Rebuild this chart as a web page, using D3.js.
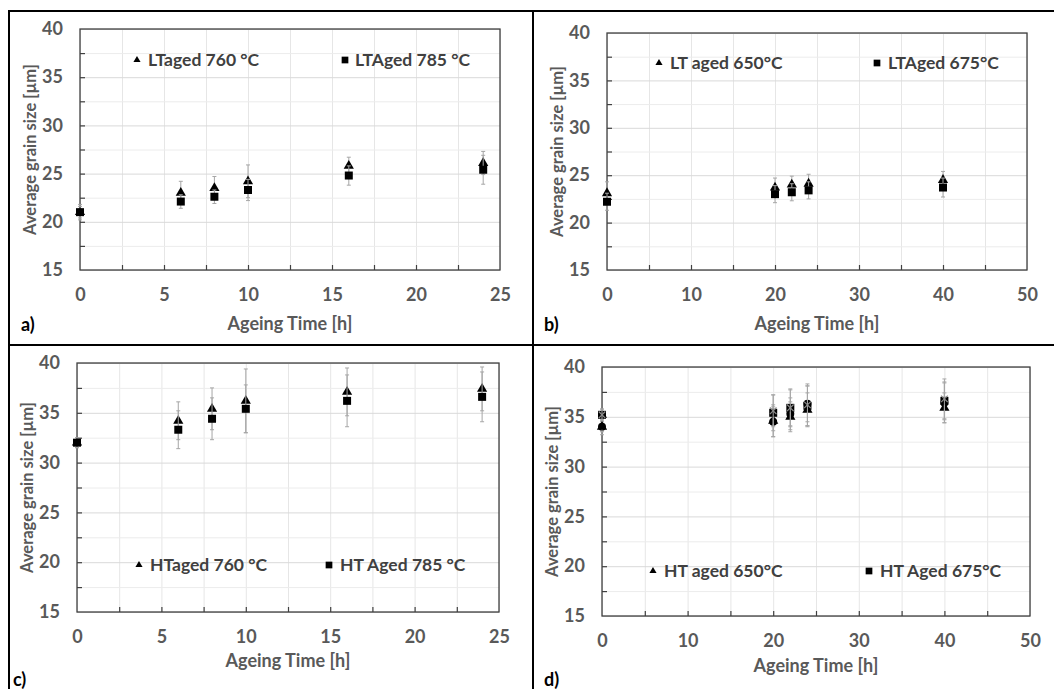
<!DOCTYPE html>
<html>
<head>
<meta charset="utf-8">
<script src="https://cdn.jsdelivr.net/npm/d3@7"></script>
<style>
  body { margin: 0; background: #fff; }
  svg { display: block; }
  text { font-family: Lato, "Open Sans", sans-serif; }
</style>
</head>
<body>
<div id="chart"></div>
<script>
// a) LT aged at 760 / 785 °C
const timesA = [0, 6, 8, 10, 16, 24];
const lt760 = [21.0, 23.0, 23.5, 24.2, 25.8, 26.1];
const lt760Err = [0.8, 1.2, 1.2, 1.7, 0.9, 1.2];
const lt785 = [21.0, 22.1, 22.6, 23.3, 24.8, 25.4];
const lt785Err = [0.6, 0.7, 0.7, 1.1, 1.0, 1.5];

// b) LT aged at 650 / 675 °C
const timesB = [0, 20, 22, 24, 40];
const lt650 = [23.1, 23.7, 24.0, 24.1, 24.5];
const lt650Err = [1.2, 1.0, 0.9, 1.0, 0.9];
const lt675 = [22.2, 23.0, 23.2, 23.4, 23.7];
const lt675Err = [0.9, 0.9, 0.9, 0.9, 1.0];

// c) HT aged at 760 / 785 °C
const ht760 = [32.0, 34.2, 35.4, 36.2, 37.1, 37.4];
const ht760Err = [0.5, 1.9, 2.1, 3.2, 2.4, 2.2];
const ht785 = [32.0, 33.3, 34.4, 35.4, 36.2, 36.6];
const ht785Err = [0.5, 1.9, 2.1, 2.4, 2.6, 2.5];

// d) HT aged at 650 / 675 °C (+ two unlabelled series)
const ht650 = [34.0, 34.6, 35.0, 35.7, 35.9];
const ht650Err = [0.8, 1.6, 1.5, 1.7, 1.5];
const ht675 = [35.2, 35.4, 35.9, 36.1, 36.6];
const ht675Err = [0.6, 1.8, 1.8, 2.0, 1.9];
const htExtraA = [34.0, 34.5, 35.3, 36.3, 36.4];
const htExtraAErr = [0.5, 1.5, 1.6, 1.8, 2.0];
const htExtraB = [35.2, 35.6, 35.9, 36.2, 36.8];
const htExtraBErr = [0.5, 1.6, 1.9, 2.1, 2.0];

const yTicks = [15, 20, 25, 30, 35, 40];
const xTicksShort = [0, 5, 10, 15, 20, 25];
const xTicksLong = [0, 10, 20, 30, 40, 50];

const W = 1054, H = 689;

let svg = d3.select("#chart").append("svg")
    .attr("width", W)
    .attr("height", H);

function toPoints(xs, ys, errs) {
  return xs.map(function(x, i) { return {x: x, y: ys[i], e: errs[i]}; });
}

function drawPanel(p) {
  let x = d3.scaleLinear().domain(p.xDomain).range([p.left, p.right]);
  let y = d3.scaleLinear().domain([15, 40]).range([p.bottom, p.top]);
  let g = svg.append("g");
  let height = p.bottom - p.top, width = p.right - p.left;
  let xStep = p.xDomain[1] / 10;
  let xMinor = d3.range(0, p.xDomain[1] + 0.01, xStep);
  let yMinor = d3.range(15, 40.01, 2.5);

  // grid
  g.append("g")
   .attr("transform", "translate(0," + p.bottom + ")")
   .call(d3.axisBottom(x).tickValues(xMinor).tickSize(-height).tickFormat(""))
   .call(s => s.select(".domain").remove())
   .selectAll("line").attr("stroke", "#e6e6e6");
  g.append("g")
   .attr("transform", "translate(" + p.left + ",0)")
   .call(d3.axisLeft(y).tickValues(yMinor).tickSize(-width).tickFormat(""))
   .call(s => s.select(".domain").remove())
   .selectAll("line").attr("stroke", function(d) { return d % 5 === 0 ? "#d9d9d9" : "#ececec"; });

  // inner ticks
  g.append("g")
   .attr("transform", "translate(0," + p.bottom + ")")
   .call(d3.axisBottom(x).tickValues(xMinor.slice(1, -1)).tickSize(-5).tickFormat(""))
   .call(s => s.select(".domain").remove())
   .selectAll("line").attr("stroke", "#404040").attr("stroke-width", 1.2);
  g.append("g")
   .attr("transform", "translate(" + p.left + ",0)")
   .call(d3.axisLeft(y).tickValues(yMinor.slice(1, -1)).tickSize(-5).tickFormat(""))
   .call(s => s.select(".domain").remove())
   .selectAll("line").attr("stroke", "#404040").attr("stroke-width", 1.2);

  // tick labels
  let xl = g.append("g")
   .attr("transform", "translate(0," + p.bottom + ")")
   .call(d3.axisBottom(x).tickValues(p.xTicks).tickSize(0).tickPadding(p.xPad));
  xl.select(".domain").remove();
  xl.selectAll("text").attr("fill", "#595959").attr("font-size", 18).attr("font-weight", "bold")
    .attr("font-family", "Lato, sans-serif");
  let yl = g.append("g")
   .attr("transform", "translate(" + p.left + ",0)")
   .call(d3.axisLeft(y).tickValues(yTicks).tickSize(0).tickPadding(p.yPad));
  yl.select(".domain").remove();
  yl.selectAll("text").attr("fill", "#595959").attr("font-size", 18).attr("font-weight", "bold")
    .attr("font-family", "Lato, sans-serif");

  // frame
  g.append("rect")
   .attr("x", p.left).attr("y", p.top)
   .attr("width", width).attr("height", height)
   .attr("fill", "none").attr("stroke", "#404040").attr("stroke-width", 1.3);

  // titles
  g.append("text")
   .attr("x", (p.left + p.right) / 2).attr("y", p.xTitleY)
   .attr("text-anchor", "middle")
   .attr("fill", "#595959").attr("font-size", 18).attr("font-weight", "bold")
   .text("Ageing Time [h]");
  g.append("text")
   .attr("transform", "translate(" + p.yTitleX + "," + (p.top + p.bottom) / 2 + ") rotate(-90)")
   .attr("text-anchor", "middle")
   .attr("fill", "#595959").attr("font-size", 16.5).attr("font-weight", "bold")
   .text("Average grain size [µm]");
  g.append("text")
   .attr("x", p.tagX).attr("y", p.tagY)
   .attr("fill", "#000").attr("font-size", 18).attr("font-weight", "bold")
   .text(p.tag);

  // series
  p.series.forEach(function(s) {
    let pts = toPoints(s.xs, s.ys, s.errs);
    let eb = g.append("g").attr("stroke", "#a6a6a6").attr("stroke-width", 1);
    pts.forEach(function(d) {
      let cx = x(d.x);
      eb.append("line").attr("x1", cx).attr("x2", cx).attr("y1", y(d.y - d.e)).attr("y2", y(d.y + d.e));
      eb.append("line").attr("x1", cx - 2).attr("x2", cx + 2).attr("y1", y(d.y - d.e)).attr("y2", y(d.y - d.e));
      eb.append("line").attr("x1", cx - 2).attr("x2", cx + 2).attr("y1", y(d.y + d.e)).attr("y2", y(d.y + d.e));
    });
    g.selectAll(null)
     .data(pts)
     .enter().append("path")
     .attr("transform", function(d) { return "translate(" + x(d.x) + "," + y(d.y) + ")"; })
     .attr("d", d3.symbol().type(s.symbol).size(s.size))
     .attr("fill", s.stroke ? "none" : "#000")
     .attr("stroke", s.stroke || "none")
     .attr("stroke-width", s.stroke ? 1.2 : 0);
  });

  // legend
  p.legend.forEach(function(l) {
    g.append("path")
     .attr("transform", "translate(" + l.mx + "," + l.my + ")")
     .attr("d", d3.symbol().type(l.symbol).size(l.size))
     .attr("fill", "#000");
    g.append("text")
     .attr("x", l.tx).attr("y", l.my + 6)
     .attr("fill", "#404040").attr("font-size", 17.5).attr("font-weight", "bold")
     .text(l.label);
  });
}

// outer frame and dividers
svg.append("path")
   .attr("d", "M9," + H + "V11H" + W)
   .attr("fill", "none").attr("stroke", "#000").attr("stroke-width", 2);
svg.append("line").attr("x1", 9).attr("x2", W).attr("y1", 345).attr("y2", 345)
   .attr("stroke", "#000").attr("stroke-width", 2);
svg.append("line").attr("x1", 533).attr("x2", 533).attr("y1", 11).attr("y2", H)
   .attr("stroke", "#000").attr("stroke-width", 2);

drawPanel({
  tag: "a)", tagX: 21, tagY: 331,
  left: 80, right: 500, top: 29, bottom: 270, xDomain: [0, 25], xTicks: xTicksShort,
  xPad: 18, yPad: 17, xTitleY: 330, yTitleX: 36,
  series: [
    {xs: timesA, ys: lt760, errs: lt760Err, symbol: d3.symbolTriangle, size: 45},
    {xs: timesA, ys: lt785, errs: lt785Err, symbol: d3.symbolSquare, size: 64}
  ],
  legend: [
    {symbol: d3.symbolTriangle, size: 22, mx: 137, my: 60, tx: 148, label: "LTaged 760 °C"},
    {symbol: d3.symbolSquare, size: 45, mx: 345, my: 60, tx: 355, label: "LTAged 785 °C"}
  ]
});

drawPanel({
  tag: "b)", tagX: 544, tagY: 331,
  left: 607, right: 1027, top: 33, bottom: 270, xDomain: [0, 50], xTicks: xTicksLong,
  xPad: 18, yPad: 17, xTitleY: 330, yTitleX: 563,
  series: [
    {xs: timesB, ys: lt650, errs: lt650Err, symbol: d3.symbolTriangle, size: 45},
    {xs: timesB, ys: lt675, errs: lt675Err, symbol: d3.symbolSquare, size: 64}
  ],
  legend: [
    {symbol: d3.symbolTriangle, size: 22, mx: 659, my: 63, tx: 670, label: "LT aged 650°C"},
    {symbol: d3.symbolSquare, size: 45, mx: 877, my: 63, tx: 888, label: "LTAged 675°C"}
  ]
});

drawPanel({
  tag: "c)", tagX: 13, tagY: 686,
  left: 77, right: 499, top: 363, bottom: 612, xDomain: [0, 25], xTicks: xTicksShort,
  xPad: 18, yPad: 17, xTitleY: 667, yTitleX: 33,
  series: [
    {xs: timesA, ys: ht760, errs: ht760Err, symbol: d3.symbolTriangle, size: 45},
    {xs: timesA, ys: ht785, errs: ht785Err, symbol: d3.symbolSquare, size: 64}
  ],
  legend: [
    {symbol: d3.symbolTriangle, size: 22, mx: 139, my: 565, tx: 150, label: "HTaged 760 °C"},
    {symbol: d3.symbolSquare, size: 45, mx: 329, my: 565, tx: 340, label: "HT Aged 785 °C"}
  ]
});

drawPanel({
  tag: "d)", tagX: 544, tagY: 686,
  left: 602, right: 1030, top: 367, bottom: 616, xDomain: [0, 50], xTicks: xTicksLong,
  xPad: 18, yPad: 17, xTitleY: 672, yTitleX: 558,
  series: [
    {xs: timesB, ys: htExtraA, errs: htExtraAErr, symbol: d3.symbolCircle, size: 50},
    {xs: timesB, ys: ht650, errs: ht650Err, symbol: d3.symbolTriangle, size: 45},
    {xs: timesB, ys: ht675, errs: ht675Err, symbol: d3.symbolSquare, size: 64},
    {xs: timesB, ys: htExtraB, errs: htExtraBErr, symbol: d3.symbolX, size: 30, stroke: "#8c8c8c"}
  ],
  legend: [
    {symbol: d3.symbolTriangle, size: 22, mx: 653, my: 571, tx: 664, label: "HT aged 650°C"},
    {symbol: d3.symbolSquare, size: 45, mx: 869, my: 571, tx: 880, label: "HT Aged 675°C"}
  ]
});
</script>
</body>
</html>
